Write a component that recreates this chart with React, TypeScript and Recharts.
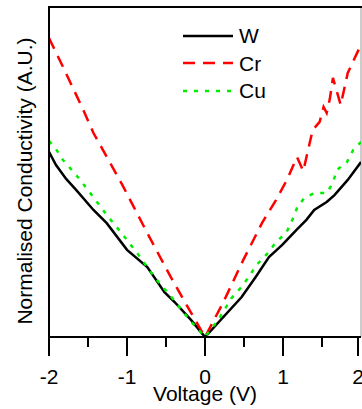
import { CartesianGrid, Legend, Line, LineChart, XAxis, YAxis } from "recharts";

const FONT = '"Liberation Sans", Arial, sans-serif';

// voltage (V) / normalised conductivity (A.U.)
const wVolt = [-2.0, -1.91, -1.78, -1.65, -1.43, -1.26, -1.0, -0.74, -0.52, -0.39, -0.18, 0, 0.47, 0.65, 0.82, 0.99, 1.17, 1.3, 1.4, 1.56, 1.66, 1.83, 2.0];
const wCond = [0.561, 0.521, 0.479, 0.445, 0.385, 0.345, 0.264, 0.212, 0.136, 0.106, 0.052, 0, 0.121, 0.182, 0.242, 0.279, 0.324, 0.355, 0.385, 0.409, 0.43, 0.476, 0.53];

const crVolt = [-2.0, -1.82, -1.56, -1.43, -1.06, -0.74, -0.44, -0.2, 0, 0.23, 0.49, 0.73, 0.91, 1.05, 1.18, 1.26, 1.38, 1.47, 1.52, 1.56, 1.6, 1.64, 1.74, 1.83, 1.95, 2.0];
const crCond = [0.906, 0.818, 0.688, 0.618, 0.461, 0.315, 0.182, 0.082, 0, 0.103, 0.233, 0.345, 0.415, 0.476, 0.545, 0.503, 0.627, 0.652, 0.697, 0.679, 0.721, 0.785, 0.703, 0.8, 0.861, 0.885];

const cuVolt = [-2.0, -1.92, -1.82, -1.62, -1.49, -1.26, -1.06, -0.84, -0.64, -0.42, -0.2, 0, 0.17, 0.34, 0.47, 0.56, 0.66, 0.82, 0.91, 1.04, 1.12, 1.18, 1.27, 1.4, 1.56, 1.64, 1.69, 1.82, 1.9, 2.0];
const cuCond = [0.594, 0.573, 0.536, 0.482, 0.442, 0.37, 0.312, 0.245, 0.179, 0.118, 0.052, 0, 0.052, 0.118, 0.152, 0.182, 0.218, 0.258, 0.288, 0.315, 0.355, 0.391, 0.421, 0.436, 0.436, 0.467, 0.506, 0.53, 0.567, 0.591];

const voltTicks = [-2, -1.5, -1, -0.5, 0, 0.5, 1, 1.5, 2];

const toPoints = (volts: number[], cond: number[]) => volts.map((v, i) => ({ v, g: cond[i] }));

const series = [
  { name: "W", data: toPoints(wVolt, wCond), color: "#000000", dash: undefined as string | undefined },
  { name: "Cr", data: toPoints(crVolt, crCond), color: "#ff0000", dash: "12 8" },
  { name: "Cu", data: toPoints(cuVolt, cuCond), color: "#00ee00", dash: "4 7" }
];

const VoltTick = (props: any) => {
  const { x, y, payload } = props;
  const major = Number.isInteger(payload.value);
  return (
    <g>
      <line x1={x} x2={x} y1={y} y2={y + (major ? 19 : 10)} stroke="#000" strokeWidth={2} />
      {major && (
        <text x={x} y={y + 47} textAnchor="middle" fontSize={21} fontFamily={FONT} fill="#000">
          {payload.value}
        </text>
      )}
    </g>
  );
};

// keep the legend in plotting order (W, Cr, Cu)
const renderLegend = () => (
  <div style={{ fontFamily: FONT, fontSize: 21, color: "#000" }}>
    {series.map((s) => (
      <div key={s.name} style={{ display: "flex", alignItems: "center", height: 27.5 }}>
        <svg width={51} height={10}>
          <line x1={0} x2={50} y1={5} y2={5} stroke={s.color} strokeWidth={2.5} strokeDasharray={s.dash} />
        </svg>
        <span style={{ marginLeft: 5, lineHeight: 1 }}>{s.name}</span>
      </div>
    ))}
  </div>
);

export default function App() {
  return (
    <div style={{ position: "absolute", left: 0, top: 0, width: 362, height: 409, background: "#fff" }}>
      <LineChart width={362} height={409} margin={{ top: 7, right: 1, bottom: 0, left: 0 }}>
        {/* right edge of the frame: thin grey */}
        <CartesianGrid horizontal={false} verticalValues={[2]} stroke="#999" strokeWidth={1} />
        <XAxis
          type="number"
          dataKey="v"
          domain={[-2, 2]}
          ticks={voltTicks}
          allowDataOverflow
          height={72}
          tickSize={0}
          tickMargin={0}
          tickLine={false}
          tick={<VoltTick />}
          axisLine={{ stroke: "#000", strokeWidth: 2 }}
          label={(p: any) => {
            const vb = p.viewBox;
            return (
              <text x={vb.x + vb.width / 2} y={vb.y + 64} textAnchor="middle" fontSize={21} fontFamily={FONT} fill="#000">
                Voltage (V)
              </text>
            );
          }}
        />
        <YAxis
          type="number"
          domain={[0, 1]}
          width={49}
          tick={false}
          tickLine={false}
          axisLine={{ stroke: "#000", strokeWidth: 2 }}
          label={(p: any) => {
            const vb = p.viewBox;
            const cx = vb.x + 32;
            const cy = vb.y + vb.height / 2 + 9;
            return (
              <text x={cx} y={cy} transform={`rotate(-90, ${cx}, ${cy})`} textAnchor="middle" fontSize={21} fontFamily={FONT} fill="#000">
                Normalised Conductivity (A.U.)
              </text>
            );
          }}
        />
        {series.map((s) => (
          <Line
            key={s.name}
            name={s.name}
            data={s.data}
            dataKey="g"
            type="linear"
            stroke={s.color}
            strokeWidth={2.5}
            strokeDasharray={s.dash}
            dot={false}
            isAnimationActive={false}
          />
        ))}
        <Legend
          layout="vertical"
          align="center"
          verticalAlign="middle"
          content={renderLegend}
          wrapperStyle={{ left: 183, top: 22, width: 110, height: 83 }}
        />
      </LineChart>
      {/* top edge of the plot frame */}
      <div style={{ position: "absolute", left: 48, top: 6, width: 314, height: 2, background: "#000", zIndex: 1 }} />
    </div>
  );
}
